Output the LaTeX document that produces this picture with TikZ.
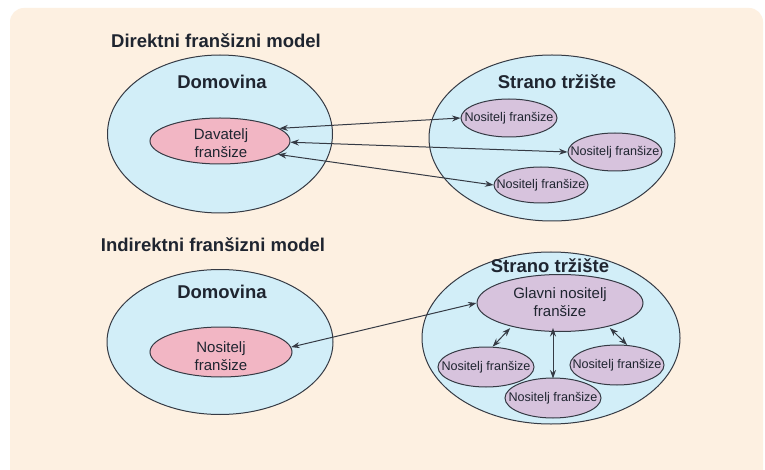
\documentclass[tikz,border=0pt]{standalone}
\usepackage{fontspec}
\setmainfont{Liberation Sans}
\usetikzlibrary{shapes.geometric,arrows.meta}
\definecolor{peach}{HTML}{FDF0E1}
\definecolor{skyb}{HTML}{D2EEF8}
\definecolor{pinkf}{HTML}{F2B6C4}
\definecolor{lav}{HTML}{D7C3DD}
\definecolor{ink}{HTML}{1F2530}
\definecolor{edge}{HTML}{353A44}
\tikzset{
  outer/.style={ellipse,draw=edge,line width=1pt,fill=skyb,inner sep=0pt},
  inpink/.style={ellipse,draw=edge,line width=1pt,fill=pinkf,inner sep=0pt},
  inlav/.style={ellipse,draw=edge,line width=1pt,fill=lav,inner sep=0pt},
  ttl/.style={font=\fontsize{18.5}{22}\selectfont\bfseries,text=ink},
  big/.style={font=\fontsize{18.5}{22}\selectfont\bfseries,text=ink},
  mid/.style={font=\fontsize{15}{18}\selectfont,text=ink,align=center},
  sml/.style={font=\fontsize{12.6}{15}\selectfont,text=ink},
  conn/.style={draw=edge,line width=1pt,{Stealth[length=8.5pt,width=6pt]}-{Stealth[length=8.5pt,width=6pt]}}
}
\begin{document}
\begin{tikzpicture}[x=1pt,y=-1pt]
\useasboundingbox (0,0) rectangle (765,470);
\fill[white] (0,0) rectangle (765,470);
\fill[peach,rounded corners=14pt] (10,8) rectangle (763,485);

% ---------- top: direct model ----------
\node[ttl] (t1) at (216,41) {Direktni franšizni model};
\node[outer,minimum width=225pt,minimum height=158pt] (dom1) at (220,134) {};
\node[big] (dom1l) at (222,82) {Domovina};
\node[inpink,minimum width=140pt,minimum height=46pt] (dav) at (220,141) {};
\node[mid] (davl) at (221,143) {Davatelj\\franšize};

\node[outer,minimum width=246pt,minimum height=166pt] (st1) at (552,138) {};
\node[big] (st1l) at (557,82) {Strano tržište};
\node[inlav,minimum width=96pt,minimum height=38pt] (n1) at (509,118) {};
\node[sml] at (n1) {Nositelj franšize};
\node[inlav,minimum width=94pt,minimum height=38pt] (n2) at (615,152) {};
\node[sml] at (n2) {Nositelj franšize};
\node[inlav,minimum width=94pt,minimum height=36pt] (n3) at (541,185) {};
\node[sml] at (n3) {Nositelj franšize};

\draw[conn] (dav.12) -- (n1.west);
\draw[conn] (dav.-1) -- (n2.west);
\draw[conn] (dav.-13) -- (n3.west);

% ---------- bottom: indirect model ----------
\node[ttl] (t2) at (213,245) {Indirektni franšizni model};
\node[outer,minimum width=226pt,minimum height=145pt] (dom2) at (220,342) {};
\node[big] (dom2l) at (222,292) {Domovina};
\node[inpink,minimum width=142pt,minimum height=50pt] (nos) at (221,352) {};
\node[mid] (nosl) at (221,356) {Nositelj\\franšize};

\node[outer,minimum width=258pt,minimum height=172pt] (st2) at (551,338) {};
\node[inlav,minimum width=166pt,minimum height=57pt] (gl) at (560,303) {};
\node[mid] (gll) at (560,302) {Glavni nositelj\\franšize};
\node[big] (st2l) at (550,266) {Strano tržište};
\node[inlav,minimum width=96pt,minimum height=40pt] (bl) at (486,367) {};
\node[sml] at (bl) {Nositelj franšize};
\node[inlav,minimum width=94pt,minimum height=40pt] (br) at (617,365) {};
\node[sml] at (br) {Nositelj franšize};
\node[inlav,minimum width=96pt,minimum height=40pt] (bb) at (553,398) {};
\node[sml] at (bb) {Nositelj franšize};

\draw[conn] (nos.4) -- (gl.west);
\draw[conn,shorten <=2pt] (gl.206) -- (bl.72);
\draw[conn,shorten <=2pt] (gl.-26) -- (br.63);
\coordinate (vtop) at ([yshift=4pt]bb.north |- gl.south);
\draw[conn] (vtop) -- ([yshift=-1pt]bb.north);
\end{tikzpicture}
\end{document}
